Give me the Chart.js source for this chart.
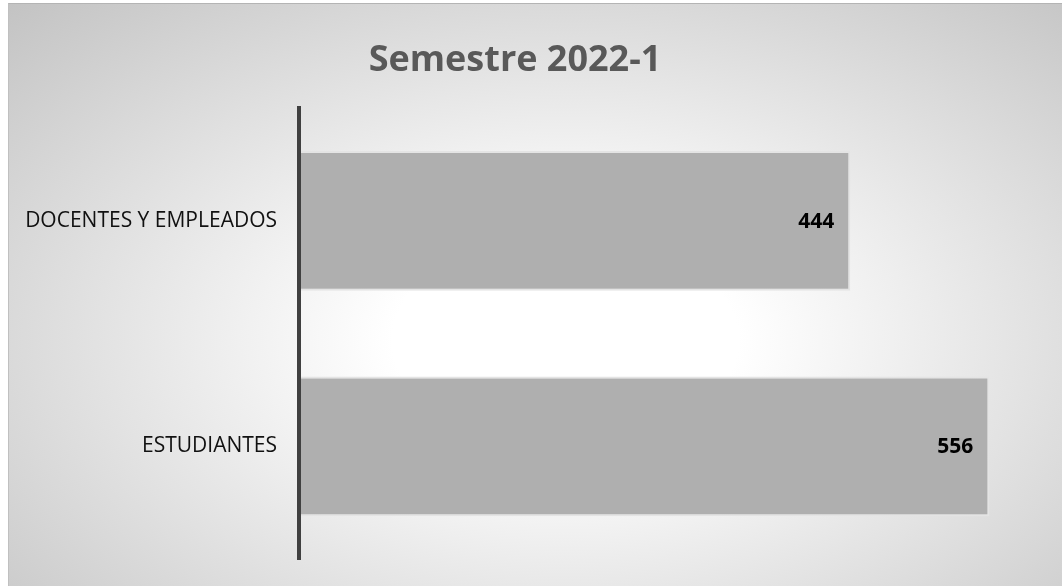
<!DOCTYPE html>
<html>
<head>
<meta charset="utf-8">
<script src="https://cdn.jsdelivr.net/npm/chart.js@4"></script>
<style>
  html, body { margin: 0; padding: 0; background: #fff; overflow: hidden; }
  #marco {
    position: absolute; left: 8px; top: 3px; width: 1070px; height: 600px;
    border-top: 1px solid #b4b4b4; border-left: 1px solid #c0c0c0;
    background: radial-gradient(ellipse farthest-corner at 52% 56%, #ffffff 0%, #ffffff 22%, #c3c3c3 100%);
  }
  #grafico { position: absolute; left: -14px; top: 0; }
</style>
</head>
<body>
<div id="marco"></div>
<canvas id="grafico" width="1076" height="586"></canvas>
<script>
// === Datos del gráfico ===
const categorias = ['DOCENTES Y EMPLEADOS', 'ESTUDIANTES'];
const valores = [444, 556];
const titulo = 'Semestre 2022-1';

// === Plugin: etiquetas de valor dentro de la barra ===
const etiquetasValor = {
  id: 'etiquetasValor',
  afterDatasetsDraw(chart) {
    const ctx = chart.ctx;
    const meta = chart.getDatasetMeta(0);
    ctx.save();
    ctx.font = 'bold 21px "Open Sans"';
    ctx.fillStyle = '#000';
    ctx.textAlign = 'right';
    ctx.textBaseline = 'middle';
    meta.data.forEach((barra, i) => {
      ctx.fillText(String(valores[i]), barra.x - 16, barra.y + 1);
    });
    ctx.restore();
  }
};

new Chart(document.getElementById('grafico'), {
  type: 'bar',
  data: {
    labels: categorias,
    datasets: [{
      data: valores,
      backgroundColor: '#afafaf',
      borderColor: '#e4e4e4',
      borderWidth: 2,
      barPercentage: 0.62,
      categoryPercentage: 1
    }]
  },
  options: {
    indexAxis: 'y',
    responsive: false,
    animation: false,
    layout: { padding: { left: 0, right: 18, top: 0, bottom: 27 } },
    plugins: {
      legend: { display: false },
      tooltip: { enabled: false },
      title: {
        display: true,
        text: titulo,
        color: '#595959',
        font: { family: '"Open Sans"', size: 36, weight: 'bold', lineHeight: 1.2 },
        padding: { top: 39, bottom: 26 }
      }
    },
    scales: {
      x: {
        display: false,
        min: 0,
        max: 600
      },
      y: {
        grid: { display: false, drawTicks: false },
        // eje dibujado encima de las barras
        border: { display: true, color: '#404040', width: 4, z: 1 },
        ticks: {
          color: '#111',
          padding: 22,
          font: { family: '"Open Sans"', size: 21 }
        },
        afterFit: s => {
          s.width = 313;
          s.paddingTop = 0;
          s.paddingBottom = 0;
        }
      }
    }
  },
  plugins: [etiquetasValor]
});
</script>
</body>
</html>
